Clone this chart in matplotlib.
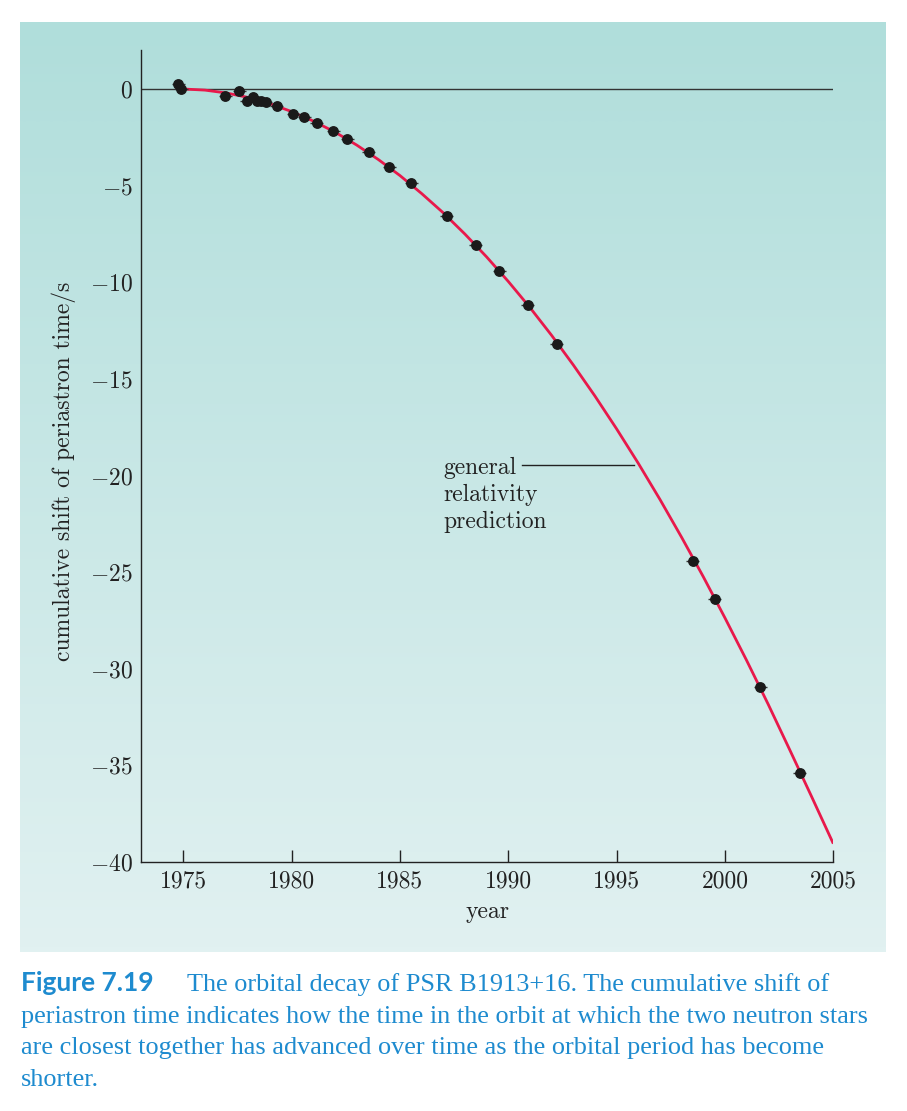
import numpy as np
import matplotlib
matplotlib.use('Agg')
import matplotlib.pyplot as plt
from matplotlib.colors import LinearSegmentedColormap

# ---------------- data ----------------
obs_year = [1974.77, 1974.91, 1976.94, 1977.58, 1977.92, 1978.23, 1978.41, 1978.61,
            1978.81, 1979.32, 1980.07, 1980.58, 1981.15, 1981.92, 1982.56, 1983.57,
            1984.51, 1985.52, 1987.15, 1988.50, 1989.58, 1990.90, 1992.24, 1998.52,
            1999.53, 2001.64, 2003.46]
obs_shift = [0.24, 0.0, -0.36, -0.10, -0.60, -0.43, -0.60, -0.64,
             -0.69, -0.90, -1.29, -1.47, -1.76, -2.16, -2.59, -3.26,
             -4.02, -4.88, -6.57, -8.10, -9.40, -11.16, -13.19, -24.40,
             -26.40, -30.95, -35.37]

gr_year = [1974.8, 1975, 1976, 1977, 1978, 1979, 1980, 1981, 1982, 1983, 1984,
           1985, 1986, 1987, 1988, 1989, 1990, 1991, 1992, 1993, 1994, 1995,
           1996, 1997, 1998, 1999, 2000, 2001, 2002, 2003, 2004, 2005]
gr_shift = [0.0, -0.002, -0.06, -0.21, -0.44, -0.76, -1.17, -1.66, -2.23, -2.90, -3.65,
            -4.48, -5.41, -6.41, -7.51, -8.69, -9.96, -11.31, -12.75, -14.28, -15.89, -17.59,
            -19.37, -21.24, -23.20, -25.24, -27.37, -29.57, -31.85, -34.22, -36.62, -39.05]

x_ticks = [1975, 1980, 1985, 1990, 1995, 2000, 2005]
x_labels = ['1975', '1980', '1985', '1990', '1995', '2000', '2005']
y_ticks = [0, -5, -10, -15, -20, -25, -30, -35, -40]
y_labels = [r'$0$', r'$-5$', r'$-10$', r'$-15$', r'$-20$', r'$-25$', r'$-30$', r'$-35$', r'$-40$']

annot_lines = ['general', 'relativity', 'prediction']
caption_head = 'Figure 7.19'
caption_lines = ['The orbital decay of PSR B1913+16. The cumulative shift of',
                 'periastron time indicates how the time in the orbit at which the two neutron stars',
                 'are closest together has advanced over time as the orbital period has become',
                 'shorter.']

# ---------------- figure ----------------
plt.rcParams['font.family'] = 'cmr10'
plt.rcParams['mathtext.fontset'] = 'cm'

W, H = 907, 1111
fig = plt.figure(figsize=(W / 100, H / 100), dpi=100)
fig.patch.set_facecolor('white')

def fx(x):
    return x / W

def fy(y):
    return 1 - y / H

# gradient panel
bg = fig.add_axes([fx(20), fy(952), 866 / W, 930 / H])
grad = np.linspace(0, 1, 256).reshape(-1, 1)
cmap = LinearSegmentedColormap.from_list('teal', ['#b0dedb', '#e1f1f1'])
bg.imshow(grad, aspect='auto', cmap=cmap, extent=[0, 1, 1, 0], interpolation='bilinear')
bg.axis('off')

# main axes
left, right, top, bottom = 141, 833.3, 50.3, 862
ax = fig.add_axes([fx(left), fy(bottom), (right - left) / W, (bottom - top) / H])
ax.set_facecolor('none')
ax.set_xlim(1973.05, 2005)
ax.set_ylim(-40, 2)
for s in ['top', 'right']:
    ax.spines[s].set_visible(False)
for s in ['left', 'bottom']:
    ax.spines[s].set_color('#222222')
    ax.spines[s].set_linewidth(1.0)

ax.axhline(0, color='#333333', lw=1.0, zorder=1)
ax.plot(gr_year, gr_shift, color='#e8194b', lw=2.0, zorder=2, solid_capstyle='butt',
        solid_joinstyle='round')
ax.errorbar(obs_year, obs_shift, xerr=0.3, fmt='o', ms=6.8, color='#1a1a1a',
            ecolor='#333333', elinewidth=1.0, capsize=0, zorder=3)

ax.set_xticks(x_ticks)
ax.set_xticklabels(x_labels)
ax.set_yticks(y_ticks)
ax.set_yticklabels(y_labels)
ax.tick_params(axis='x', direction='in', length=9, width=1, pad=6, labelsize=17,
               colors='#222222')
ax.tick_params(axis='y', length=0, pad=6, labelsize=17, colors='#222222')

fig.text(fx(487), fy(912), 'year', ha='center', va='center', fontsize=17, color='#222222')
fig.text(fx(64), fy(471), 'cumulative shift of periastron time/s', rotation=90,
         ha='center', va='center', fontsize=17, color='#222222')

# annotation
ax.plot([1990.63, 1995.8], [-19.45, -19.45], color='#222222', lw=1.0, zorder=1)
for txt, yb in zip(annot_lines, [-19.92, -21.34, -22.72]):
    ax.text(1987.0, yb, txt, ha='left', va='baseline', fontsize=17, color='#222222')

# caption
blue = '#1e8bcf'
fig.text(fx(21), fy(991), caption_head, fontfamily='Lato', fontweight='bold',
         fontsize=19, color=blue, ha='left', va='baseline')
cap_fs = 18.9
for i, line in enumerate(caption_lines):
    xs = 187 if i == 0 else 21
    fig.text(fx(xs), fy(991 + 31.7 * i), line, fontfamily='Liberation Serif',
             fontsize=cap_fs, color=blue, ha='left', va='baseline')

fig.savefig('out.png', dpi=100, facecolor='white')
